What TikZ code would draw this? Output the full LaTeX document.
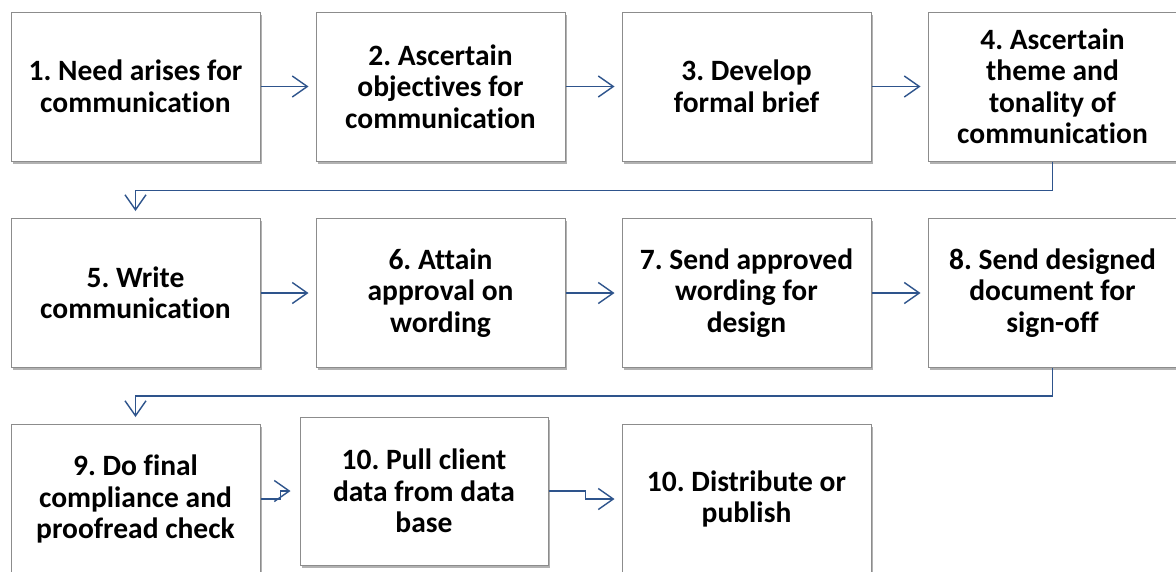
\documentclass[tikz,border=0pt]{standalone}
\usepackage{fontspec}
\setmainfont{Carlito}[RawFeature=-liga]
\frenchspacing
\usetikzlibrary{arrows.meta,shadows}
\definecolor{arrowblue}{RGB}{46,84,140}
\definecolor{boxgrey}{RGB}{140,140,140}
\tikzset{
  stepbox/.style={draw=boxgrey, line width=1pt, fill=white,
    minimum width=249pt, minimum height=149pt, inner sep=0pt,
    align=center, font=\fontsize{29.5}{31.5}\selectfont\bfseries\frenchspacing,
    drop shadow={shadow xshift=2pt, shadow yshift=-2.5pt, fill=black, opacity=0.3}},
  flow/.style={draw=arrowblue, line width=1.4pt,
    -{Straight Barb[length=15pt,width=21pt,line width=1.4pt]}, shorten >=7pt}
}
\begin{document}
\begin{tikzpicture}[x=1pt,y=-1pt]
\useasboundingbox[fill=white] (0,0) rectangle (1176,571);
% row 1
\node[stepbox] (b1) at (135.5,86.5) {1. Need arises for\\communication};
\node[stepbox] (b2) at (440.5,86.5) {2. Ascertain\\objectives for\\communication};
\node[stepbox] (b3) at (746.5,86.5) {3. Develop\\formal brief};
\node[stepbox] (b4) at (1052.5,86.5) {4. Ascertain\\theme and\\tonality of\\communication};
% row 2
\node[stepbox] (b5) at (135.5,293) {5. Write\\communication};
\node[stepbox] (b6) at (440.5,293) {6. Attain\\approval on\\wording};
\node[stepbox] (b7) at (746.5,293) {7. Send approved\\wording for\\design};
\node[stepbox] (b8) at (1052.5,293) {8. Send designed\\document for\\sign-off};
% row 3
\node[stepbox] (b9) at (135.5,499) {9. Do final\\compliance and\\proofread check};
\node[stepbox, minimum width=248pt, minimum height=148pt] (b10) at (424,491) {10. Pull client\\data from data\\base};
\node[stepbox] (b11) at (746.5,499) {10. Distribute or\\publish};
% connectors
\draw[flow] (b1.east) -- (b2.west);
\draw[flow] (b2.east) -- (b3.west);
\draw[flow] (b3.east) -- (b4.west);
\draw[flow] (b4.south) -- ++(0,29) -| (b5.north);
\draw[flow] (b5.east) -- (b6.west);
\draw[flow] (b6.east) -- (b7.west);
\draw[flow] (b7.east) -- (b8.west);
\draw[flow] (b8.south) -- ++(0,28) -| (b9.north);
\draw[flow, shorten >=9pt] (b9.east) -- ++(20,0) |- (b10.west);
\draw[flow] (b10.east) -- ++(37,0) |- (b11.west);
\end{tikzpicture}
\end{document}
